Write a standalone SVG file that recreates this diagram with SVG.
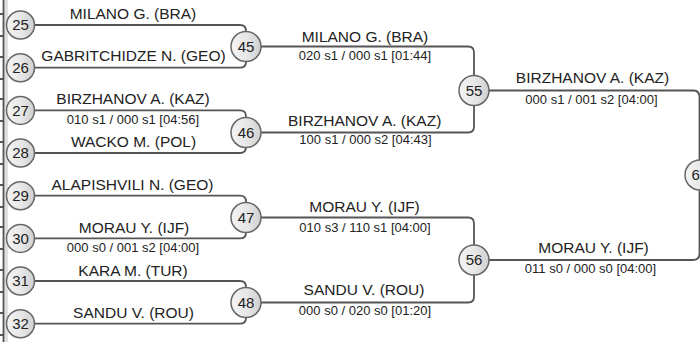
<svg xmlns="http://www.w3.org/2000/svg" width="700" height="342" viewBox="0 0 700 342">
<defs>
<linearGradient id="cg" x1="0" y1="0" x2="1" y2="0">
<stop offset="0" stop-color="#f4f4f4"/>
<stop offset="0.55" stop-color="#e6e6e6"/>
<stop offset="1" stop-color="#cfcfcf"/>
</linearGradient>
</defs>
<style>
.ln{fill:none;stroke:#555;stroke-width:1.8}
.c{fill:url(#cg);stroke:#666;stroke-width:1.5}
.n{font-family:"Liberation Sans",Arial,sans-serif;font-size:15px;fill:#222;text-anchor:middle}
.nm{font-family:"Liberation Sans",Arial,sans-serif;font-size:15.5px;fill:#222;text-anchor:middle}
.sc{font-family:"Liberation Sans",Arial,sans-serif;font-size:13px;fill:#222;text-anchor:middle}
</style>
<rect width="700" height="342" fill="#fff"/>
<rect x="4" y="0" width="4" height="342" fill="#e0e0e0"/>
<g id="connectors">
<line class="ln" x1="3.5" y1="0" x2="3.5" y2="342"/>
<path class="ln" d="M0,14H4M0,36H4M0,57H4M0,79H4M0,99H4M0,121H4M0,142H4M0,164H4M0,185H4M0,207H4M0,227H4M0,249H4M0,270H4M0,292H4M0,313H4M0,335H4"/>
<path class="ln" d="M20,25H240Q246,25 246,31V61.7Q246,67.7 240,67.7H20"/>
<path class="ln" d="M20,110.4H240Q246,110.4 246,116.4V147Q246,153 240,153H20"/>
<path class="ln" d="M20,195.7H240Q246,195.7 246,201.7V232.4Q246,238.4 240,238.4H20"/>
<path class="ln" d="M20,281H240Q246,281 246,287V317.7Q246,323.7 240,323.7H20"/>
<path class="ln" d="M246,46.5H468Q474,46.5 474,52.5V126.5Q474,132.5 468,132.5H246"/>
<path class="ln" d="M246,217.5H468Q474,217.5 474,223.5V296.5Q474,302.5 468,302.5H246"/>
<path class="ln" d="M474,90.5H693Q699.5,90.5 699.5,97V253.5Q699.5,260 693,260H474"/>
</g>
<g id="n25"><circle class="c" cx="20.5" cy="25" r="14"/><text class="n" x="20.5" y="30.3">25</text></g>
<g id="n26"><circle class="c" cx="20.5" cy="67.7" r="14"/><text class="n" x="20.5" y="73">26</text></g>
<g id="n27"><circle class="c" cx="20.5" cy="110.4" r="14"/><text class="n" x="20.5" y="115.7">27</text></g>
<g id="n28"><circle class="c" cx="20.5" cy="153" r="14"/><text class="n" x="20.5" y="158.3">28</text></g>
<g id="n29"><circle class="c" cx="20.5" cy="195.7" r="14"/><text class="n" x="20.5" y="201">29</text></g>
<g id="n30"><circle class="c" cx="20.5" cy="238.4" r="14"/><text class="n" x="20.5" y="243.7">30</text></g>
<g id="n31"><circle class="c" cx="20.5" cy="281" r="14"/><text class="n" x="20.5" y="286.3">31</text></g>
<g id="n32"><circle class="c" cx="20.5" cy="323.7" r="14"/><text class="n" x="20.5" y="329">32</text></g>
<g id="n45"><circle class="c" cx="246" cy="46.5" r="15"/><text class="n" x="246" y="51.8">45</text></g>
<g id="n46"><circle class="c" cx="246" cy="132.5" r="15"/><text class="n" x="246" y="137.8">46</text></g>
<g id="n47"><circle class="c" cx="246" cy="217.5" r="15"/><text class="n" x="246" y="222.8">47</text></g>
<g id="n48"><circle class="c" cx="246" cy="302.5" r="15"/><text class="n" x="246" y="307.8">48</text></g>
<g id="n55"><circle class="c" cx="474" cy="90.5" r="15"/><text class="n" x="474" y="95.8">55</text></g>
<g id="n56"><circle class="c" cx="474" cy="260" r="15"/><text class="n" x="474" y="265.3">56</text></g>
<g id="n6"><circle class="c" cx="700" cy="175" r="15"/><text class="n" x="691.5" y="180.3" style="text-anchor:start">6</text></g>
<g id="labels">
<text class="nm" x="133" y="18.5">MILANO G. (BRA)</text>
<text class="nm" x="133.5" y="61">GABRITCHIDZE N. (GEO)</text>
<text class="nm" x="133" y="103.5">BIRZHANOV A. (KAZ)</text>
<text class="sc" x="133" y="124">010 s1 / 000 s1 [04:56]</text>
<text class="nm" x="133.5" y="146.5">WACKO M. (POL)</text>
<text class="nm" x="132.5" y="189.5">ALAPISHVILI N. (GEO)</text>
<text class="nm" x="134" y="232.5">MORAU Y. (IJF)</text>
<text class="sc" x="133" y="252.3">000 s0 / 001 s2 [04:00]</text>
<text class="nm" x="133" y="275.5">KARA M. (TUR)</text>
<text class="nm" x="133.5" y="317.5">SANDU V. (ROU)</text>
<text class="nm" x="365" y="41.5">MILANO G. (BRA)</text>
<text class="sc" x="365" y="60">020 s1 / 000 s1 [01:44]</text>
<text class="nm" x="364.7" y="126">BIRZHANOV A. (KAZ)</text>
<text class="sc" x="365.5" y="144.3">100 s1 / 000 s2 [04:43]</text>
<text class="nm" x="364.5" y="212">MORAU Y. (IJF)</text>
<text class="sc" x="365" y="231.5">010 s3 / 110 s1 [04:00]</text>
<text class="nm" x="364" y="295">SANDU V. (ROU)</text>
<text class="sc" x="365" y="315">000 s0 / 020 s0 [01:20]</text>
<text class="nm" x="592.5" y="82.7">BIRZHANOV A. (KAZ)</text>
<text class="sc" x="591.5" y="104">000 s1 / 001 s2 [04:00]</text>
<text class="nm" x="593.5" y="253">MORAU Y. (IJF)</text>
<text class="sc" x="590.5" y="273.3">011 s0 / 000 s0 [04:00]</text>
</g>
</svg>
